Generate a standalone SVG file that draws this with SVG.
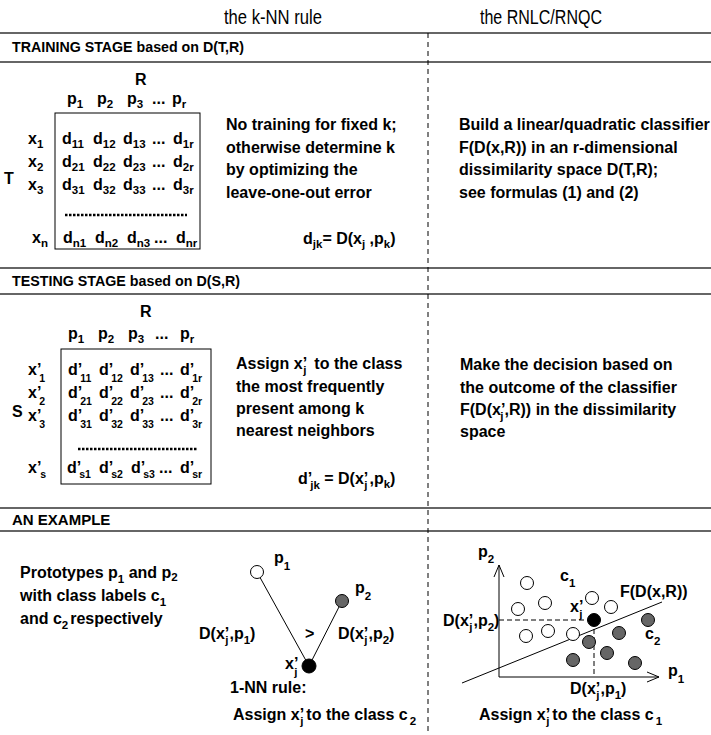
<svg xmlns="http://www.w3.org/2000/svg" width="711" height="735" viewBox="0 0 711 735">
<style>
text { font-family: "Liberation Sans", Arial, Helvetica, sans-serif; fill:#000; }
.b { font-weight:bold; font-size:16px; }
.s { font-weight:bold; font-size:11.5px; }
.s2 { font-weight:bold; font-size:10.5px; }
.ti { font-size:20px; }
.h { font-weight:bold; font-size:15px; }
.sep { stroke:#333; stroke-width:1.5; }
.vdash { stroke:#000; stroke-width:1; stroke-dasharray:5 4; }
.dots { stroke:#000; stroke-width:2.5; stroke-dasharray:2.5 1.5; }
.box { fill:none; stroke:#000; stroke-width:1; }
.wc { fill:#fff; stroke:#000; stroke-width:1; }
.gc { fill:#666; stroke:#000; stroke-width:1; }
.bc { fill:#000; stroke:#000; stroke-width:1; }
.thin { stroke:#000; stroke-width:1; fill:none; }
.dl { stroke:#000; stroke-width:1; stroke-dasharray:5 3; fill:none; }
</style>
<defs>
<marker id="open" markerWidth="14" markerHeight="12" refX="13" refY="6" orient="auto" markerUnits="userSpaceOnUse">
<polyline points="1,1 13,6 1,11" fill="none" stroke="#000" stroke-width="1"/>
</marker>
</defs>

<g id="titles">
<text class="ti" x="273" y="24" text-anchor="middle" textLength="98" lengthAdjust="spacingAndGlyphs">the k-NN rule</text>
<text class="ti" x="541" y="24" text-anchor="middle" textLength="122" lengthAdjust="spacingAndGlyphs">the RNLC/RNQC</text>
</g>

<g id="frame">
<line class="sep" x1="0" y1="33" x2="711" y2="33"/>
<line class="sep" x1="0" y1="62" x2="711" y2="62"/>
<line class="sep" x1="0" y1="268" x2="711" y2="268"/>
<line class="sep" x1="0" y1="294" x2="711" y2="294"/>
<line class="sep" x1="0" y1="508" x2="711" y2="508"/>
<line class="sep" x1="0" y1="531" x2="711" y2="531"/>
<line class="vdash" x1="428" y1="33" x2="428" y2="735"/>
<text class="h" x="12" y="52" textLength="232" lengthAdjust="spacingAndGlyphs">TRAINING STAGE based on D(T,R)</text>
<text class="h" x="12" y="286" textLength="228" lengthAdjust="spacingAndGlyphs">TESTING STAGE based on D(S,R)</text>
<text class="h" x="12" y="525">AN EXAMPLE</text>
</g>

<g id="matrix-T">
<text class="b" x="135" y="85">R</text>
<text class="b" x="67" y="104">p<tspan class="s" dy="4">1</tspan></text>
<text class="b" x="97" y="104">p<tspan class="s" dy="4">2</tspan></text>
<text class="b" x="127" y="104">p<tspan class="s" dy="4">3</tspan></text>
<text class="b" x="152" y="104">...</text>
<text class="b" x="172" y="104">p<tspan class="s" dy="4">r</tspan></text>
<text class="b" x="4" y="184">T</text>
<rect class="box" x="55" y="113" width="145" height="136"/>
<text class="b" x="28" y="144">x<tspan class="s" dy="4">1</tspan></text>
<text class="b" x="28" y="167">x<tspan class="s" dy="4">2</tspan></text>
<text class="b" x="28" y="190">x<tspan class="s" dy="4">3</tspan></text>
<text class="b" x="32" y="243">x<tspan class="s" dy="4">n</tspan></text>
<text class="b" x="62" y="144">d<tspan class="s" dy="4">11</tspan></text>
<text class="b" x="93" y="144">d<tspan class="s" dy="4">12</tspan></text>
<text class="b" x="123" y="144">d<tspan class="s" dy="4">13</tspan></text>
<text class="b" x="152" y="144">...</text>
<text class="b" x="173" y="144">d<tspan class="s" dy="4">1r</tspan></text>
<text class="b" x="62" y="167">d<tspan class="s" dy="4">21</tspan></text>
<text class="b" x="93" y="167">d<tspan class="s" dy="4">22</tspan></text>
<text class="b" x="123" y="167">d<tspan class="s" dy="4">23</tspan></text>
<text class="b" x="152" y="167">...</text>
<text class="b" x="173" y="167">d<tspan class="s" dy="4">2r</tspan></text>
<text class="b" x="62" y="190">d<tspan class="s" dy="4">31</tspan></text>
<text class="b" x="93" y="190">d<tspan class="s" dy="4">32</tspan></text>
<text class="b" x="123" y="190">d<tspan class="s" dy="4">33</tspan></text>
<text class="b" x="152" y="190">...</text>
<text class="b" x="173" y="190">d<tspan class="s" dy="4">3r</tspan></text>
<line class="dots" x1="65" y1="215" x2="187" y2="215"/>
<text class="b" x="63" y="243">d<tspan class="s" dy="4">n1</tspan></text>
<text class="b" x="95" y="243">d<tspan class="s" dy="4">n2</tspan></text>
<text class="b" x="127" y="243">d<tspan class="s" dy="4">n3</tspan></text>
<text class="b" x="154" y="243">...</text>
<text class="b" x="176" y="243">d<tspan class="s" dy="4">nr</tspan></text>
</g>

<g id="knn-training">
<text class="b" x="226" y="130">No training for fixed k;</text>
<text class="b" x="226" y="153">otherwise determine k</text>
<text class="b" x="226" y="175">by optimizing the</text>
<text class="b" x="226" y="198">leave-one-out error</text>
<text class="b" x="303" y="244">d<tspan class="s" dy="4">jk</tspan><tspan dy="-4">= D(x</tspan><tspan class="s" dy="4">j</tspan><tspan dy="-4"> ,p</tspan><tspan class="s" dy="4">k</tspan><tspan dy="-4">)</tspan></text>
</g>

<g id="rnlc-training">
<text class="b" x="459" y="130">Build a linear/quadratic classifier</text>
<text class="b" x="459" y="153">F(D(x,R)) in an r-dimensional</text>
<text class="b" x="459" y="175">dissimilarity space D(T,R);</text>
<text class="b" x="459" y="198">see formulas (1) and (2)</text>
</g>

<g id="matrix-S">
<text class="b" x="140" y="317">R</text>
<text class="b" x="68" y="339">p<tspan class="s" dy="4">1</tspan></text>
<text class="b" x="98" y="339">p<tspan class="s" dy="4">2</tspan></text>
<text class="b" x="128" y="339">p<tspan class="s" dy="4">3</tspan></text>
<text class="b" x="155" y="339">...</text>
<text class="b" x="180" y="339">p<tspan class="s" dy="4">r</tspan></text>
<text class="b" x="12" y="417">S</text>
<rect class="box" x="61" y="349" width="150" height="135"/>
<text class="b" x="28" y="375">x’<tspan class="s2" dx="-2" dy="7">1</tspan></text>
<text class="b" x="28" y="398">x’<tspan class="s2" dx="-2" dy="7">2</tspan></text>
<text class="b" x="28" y="421">x’<tspan class="s2" dx="-2" dy="7">3</tspan></text>
<text class="b" x="28" y="473">x’<tspan class="s2" dx="-1" dy="5">s</tspan></text>
<text class="b" x="68" y="375">d’<tspan class="s2" dx="-2" dy="7">11</tspan></text>
<text class="b" x="99" y="375">d’<tspan class="s2" dx="-2" dy="7">12</tspan></text>
<text class="b" x="130" y="375">d’<tspan class="s2" dx="-2" dy="7">13</tspan></text>
<text class="b" x="160" y="375">...</text>
<text class="b" x="180" y="375">d’<tspan class="s2" dx="-2" dy="7">1r</tspan></text>
<text class="b" x="68" y="398">d’<tspan class="s2" dx="-2" dy="7">21</tspan></text>
<text class="b" x="99" y="398">d’<tspan class="s2" dx="-2" dy="7">22</tspan></text>
<text class="b" x="130" y="398">d’<tspan class="s2" dx="-2" dy="7">23</tspan></text>
<text class="b" x="160" y="398">...</text>
<text class="b" x="180" y="398">d’<tspan class="s2" dx="-2" dy="7">2r</tspan></text>
<text class="b" x="68" y="421">d’<tspan class="s2" dx="-2" dy="7">31</tspan></text>
<text class="b" x="99" y="421">d’<tspan class="s2" dx="-2" dy="7">32</tspan></text>
<text class="b" x="130" y="421">d’<tspan class="s2" dx="-2" dy="7">33</tspan></text>
<text class="b" x="160" y="421">...</text>
<text class="b" x="180" y="421">d’<tspan class="s2" dx="-2" dy="7">3r</tspan></text>
<line class="dots" x1="78" y1="449" x2="197" y2="449"/>
<text class="b" x="67" y="473">d’<tspan class="s2" dx="-2" dy="5">s1</tspan></text>
<text class="b" x="99" y="473">d’<tspan class="s2" dx="-2" dy="5">s2</tspan></text>
<text class="b" x="131" y="473">d’<tspan class="s2" dx="-2" dy="5">s3</tspan></text>
<text class="b" x="159" y="473">...</text>
<text class="b" x="180" y="473">d’<tspan class="s2" dx="-2" dy="5">sr</tspan></text>
</g>

<g id="knn-testing">
<text class="b" x="236" y="369">Assign x’<tspan class="s" dx="-4" dy="5">j</tspan><tspan dx="8" dy="-5">to the class</tspan></text>
<text class="b" x="236" y="392">the most frequently</text>
<text class="b" x="236" y="414">present among k</text>
<text class="b" x="236" y="436">nearest neighbors</text>
<text class="b" x="298" y="484">d’<tspan class="s" dx="-2" dy="5">jk</tspan><tspan dy="-5"> = D(x’</tspan><tspan class="s" dx="-4" dy="5">j</tspan><tspan dx="2" dy="-5">,p</tspan><tspan class="s" dy="4">k</tspan><tspan dy="-4">)</tspan></text>
</g>

<g id="rnlc-testing">
<text class="b" x="460" y="370">Make the decision based on</text>
<text class="b" x="460" y="393">the outcome of the classifier</text>
<text class="b" x="460" y="415">F(D(x’<tspan class="s" dx="-5" dy="5">j</tspan><tspan dx="1" dy="-5">,R)) in the dissimilarity</tspan></text>
<text class="b" x="460" y="437">space</text>
</g>

<g id="example-text">
<text class="b" x="20" y="578">Prototypes p<tspan class="s" dy="5">1</tspan><tspan dy="-5"> and p</tspan><tspan class="s" dy="3">2</tspan></text>
<text class="b" x="20" y="601">with class labels c<tspan class="s" dy="5">1</tspan></text>
<text class="b" x="20" y="624">and c<tspan class="s" dy="5">2</tspan><tspan dx="2" dy="-5">respectively</tspan></text>
</g>

<g id="connectors">
<line class="thin" x1="257" y1="572" x2="309" y2="666"/>
<line class="thin" x1="309" y1="666" x2="342" y2="601"/>
</g>

<g id="knn-example">
<circle class="wc" cx="257" cy="572" r="6.5"/>
<circle class="gc" cx="342" cy="601" r="6.5"/>
<circle class="bc" cx="309" cy="666" r="7"/>
<text class="b" x="274" y="563">p<tspan class="s" dy="7">1</tspan></text>
<text class="b" x="355" y="593">p<tspan class="s" dy="7">2</tspan></text>
<text class="b" x="285" y="669">x’<tspan class="s" dx="-4" dy="7">j</tspan></text>
<text class="b" x="199" y="639">D(x’<tspan class="s" dx="-4" dy="5">j</tspan><tspan dx="1" dy="-5">,p</tspan><tspan class="s" dy="5">1</tspan><tspan dy="-5">)</tspan></text>
<text class="b" x="305" y="639">&gt;</text>
<text class="b" x="338" y="639">D(x’<tspan class="s" dx="-4" dy="5">j</tspan><tspan dx="1" dy="-5">,p</tspan><tspan class="s" dy="5">2</tspan><tspan dy="-5">)</tspan></text>
<text class="b" x="230" y="693">1-NN rule:</text>
<text class="b" x="233" y="720">Assign x’<tspan class="s" dx="-4" dy="5">j</tspan><tspan dx="3" dy="-5">to the class c</tspan><tspan class="s" dx="2" dy="5">2</tspan></text>
</g>

<g id="rnlc-example">
<line class="thin" x1="499" y1="677" x2="499" y2="565" marker-end="url(#open)"/>
<line class="thin" x1="499" y1="677" x2="659" y2="677" marker-end="url(#open)"/>
<line class="thin" x1="462" y1="683" x2="662" y2="602"/>
<polyline class="dl" points="499,620 594,620 594,677"/>
<circle class="wc" cx="527" cy="583" r="6.5"/>
<circle class="wc" cx="545" cy="603" r="6.5"/>
<circle class="wc" cx="518" cy="609" r="6.5"/>
<circle class="wc" cx="592" cy="598" r="6.5"/>
<circle class="wc" cx="611" cy="607" r="6.5"/>
<circle class="wc" cx="526" cy="636" r="6.5"/>
<circle class="wc" cx="548" cy="631" r="6.5"/>
<circle class="wc" cx="573" cy="634" r="6.5"/>
<circle class="gc" cx="648" cy="620" r="6.5"/>
<circle class="gc" cx="619" cy="633" r="6.5"/>
<circle class="gc" cx="589" cy="642" r="6.5"/>
<circle class="gc" cx="607" cy="653" r="6.5"/>
<circle class="gc" cx="573" cy="660" r="6.5"/>
<circle class="gc" cx="635" cy="663" r="6.5"/>
<circle class="bc" cx="594" cy="620" r="6.5"/>
<text class="b" x="478" y="557">p<tspan class="s" dy="6">2</tspan></text>
<text class="b" x="668" y="676">p<tspan class="s" dy="7">1</tspan></text>
<text class="b" x="560" y="581">c<tspan class="s" dy="6">1</tspan></text>
<text class="b" x="645" y="639">c<tspan class="s" dy="6">2</tspan></text>
<text class="b" x="620" y="597">F(D(x,R))</text>
<text class="b" x="570" y="612">x’<tspan class="s" dx="-4" dy="6">j</tspan></text>
<text class="b" x="443" y="626">D(x’<tspan class="s" dx="-4" dy="5">j</tspan><tspan dx="1" dy="-5">,p</tspan><tspan class="s" dy="5">2</tspan><tspan dy="-5">)</tspan></text>
<text class="b" x="570" y="694">D(x’<tspan class="s" dx="-4" dy="5">j</tspan><tspan dx="1" dy="-5">,p</tspan><tspan class="s" dy="5">1</tspan><tspan dy="-5">)</tspan></text>
<text class="b" x="479" y="720">Assign x’<tspan class="s" dx="-4" dy="5">j</tspan><tspan dx="3" dy="-5">to the class c</tspan><tspan class="s" dx="2" dy="5">1</tspan></text>
</g>
</svg>
